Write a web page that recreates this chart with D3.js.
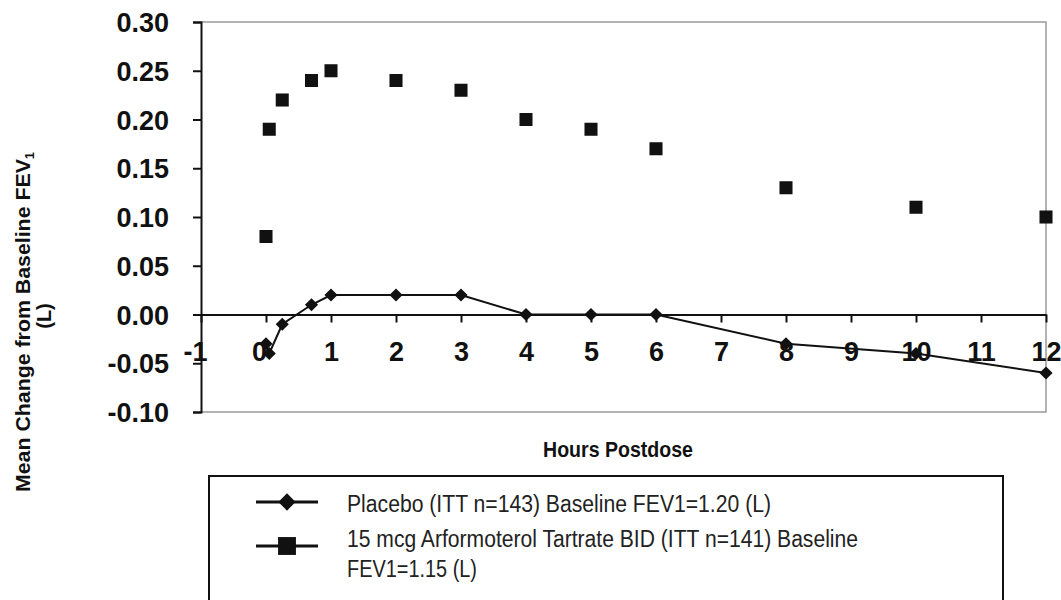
<!DOCTYPE html>
<html>
<head>
<meta charset="utf-8">
<script src="https://cdn.jsdelivr.net/npm/d3@7.9.0/dist/d3.min.js"></script>
<style>
  body { margin: 0; background: #fff; }
  svg { display: block; font-family: "Liberation Sans", Arial, sans-serif; }
</style>
</head>
<body>
<svg id="vis"></svg>
<script>
const width = 1061;
const height = 600;

// --- data ---
const hours = [0, 0.05, 0.25, 0.7, 1, 2, 3, 4, 5, 6, 8, 10, 12];
const placebo = [-0.03, -0.04, -0.01, 0.01, 0.02, 0.02, 0.02, 0.00, 0.00, 0.00, -0.03, -0.04, -0.06];
const arformoterol = [0.08, 0.19, 0.22, 0.24, 0.25, 0.24, 0.23, 0.20, 0.19, 0.17, 0.13, 0.11, 0.10];
const xTicks = d3.range(-1, 13);
const yTicks = [-0.10, -0.05, 0.00, 0.05, 0.10, 0.15, 0.20, 0.25, 0.30];
const legendLabels = [
    ["Placebo (ITT n=143) Baseline FEV1=1.20 (L)"],
    ["15 mcg Arformoterol Tartrate BID (ITT n=141) Baseline", "FEV1=1.15 (L)"]
];

const svg = d3.select("#vis")
    .attr("width", width)
    .attr("height", height);

const x = d3.scaleLinear().domain([-1, 12]).range([201, 1046]);
const y = d3.scaleLinear().domain([-0.10, 0.30]).range([412, 22]);

const signed = d => d < 0 ? "-" + d3.format(".2f")(-d) : d3.format(".2f")(d);

// frame (gray top, right, bottom)
svg.append("path")
    .attr("d", `M${x(-1)},${y(0.30)}H${x(12)}V${y(-0.10)}H${x(-1)}`)
    .attr("fill", "none")
    .attr("stroke", "#9a9a9a")
    .attr("stroke-width", 1.5);

// y axis
const yAxis = svg.append("g")
    .attr("transform", `translate(${x(-1)},0)`)
    .call(d3.axisLeft(y).tickValues(yTicks).tickFormat(signed).tickSize(8).tickPadding(24));
yAxis.select(".domain").attr("stroke", "#111").attr("stroke-width", 2);
yAxis.selectAll(".tick line").attr("stroke", "#111").attr("stroke-width", 2);
yAxis.selectAll(".tick text")
    .attr("fill", "#111")
    .style("font-size", "27px")
    .style("font-weight", "bold")
    .attr("dy", "0.36em");

// x axis at y = 0
const xAxis = svg.append("g")
    .attr("transform", `translate(0,${y(0)})`)
    .call(d3.axisBottom(x).tickValues(xTicks).tickFormat(d => d < 0 ? "-" + (-d) : d).tickSize(8).tickPadding(19).tickSizeOuter(0));
xAxis.select(".domain").attr("stroke", "#111").attr("stroke-width", 2);
xAxis.selectAll(".tick line").attr("stroke", "#111").attr("stroke-width", 2);
xAxis.selectAll(".tick text")
    .attr("fill", "#111")
    .style("font-size", "27px")
    .style("font-weight", "bold");
xAxis.selectAll(".tick text").filter(d => d === -1).attr("dx", -6);
xAxis.selectAll(".tick text").filter(d => d === 0).attr("dx", -7);

// placebo line + diamonds
const placeboData = hours.map((h, i) => ({ h, v: placebo[i] }));
const armData = hours.map((h, i) => ({ h, v: arformoterol[i] }));

svg.append("path")
    .datum(placeboData)
    .attr("fill", "none")
    .attr("stroke", "#111")
    .attr("stroke-width", 2)
    .attr("d", d3.line().x(d => x(d.h)).y(d => y(d.v)));

const diamond = d3.symbol().type(d3.symbolDiamond2).size(110);
const square = d3.symbol().type(d3.symbolSquare).size(170);

svg.selectAll(".placebo")
    .data(placeboData)
    .join("path")
    .attr("class", "placebo")
    .attr("transform", d => `translate(${x(d.h)},${y(d.v)})`)
    .attr("d", diamond)
    .attr("fill", "#111");

svg.selectAll(".arm")
    .data(armData)
    .join("path")
    .attr("class", "arm")
    .attr("transform", d => `translate(${x(d.h)},${y(d.v)})`)
    .attr("d", square)
    .attr("fill", "#111");

// axis titles
svg.append("text")
    .attr("x", 618)
    .attr("y", 457)
    .attr("text-anchor", "middle")
    .attr("fill", "#111")
    .style("font-size", "22px")
    .style("font-weight", "bold")
    .attr("textLength", 150)
    .attr("lengthAdjust", "spacingAndGlyphs")
    .text("Hours Postdose");

const yTitle = svg.append("text")
    .attr("transform", "translate(30,322) rotate(-90)")
    .attr("text-anchor", "middle")
    .attr("fill", "#111")
    .style("font-size", "20px")
    .style("font-weight", "bold")
    .attr("textLength", 340)
    .attr("lengthAdjust", "spacingAndGlyphs");
yTitle.append("tspan").text("Mean Change from Baseline FEV");
yTitle.append("tspan").attr("dy", 4).style("font-size", "12px").text("1");

svg.append("text")
    .attr("transform", "translate(51,316) rotate(-90)")
    .attr("text-anchor", "middle")
    .attr("fill", "#111")
    .style("font-size", "20px")
    .style("font-weight", "bold")
    .text("(L)");

// legend
const legend = svg.append("g");
legend.append("rect")
    .attr("x", 209)
    .attr("y", 476)
    .attr("width", 794)
    .attr("height", 200)
    .attr("fill", "none")
    .attr("stroke", "#111")
    .attr("stroke-width", 2);

const legendRows = [
    { y: 502, base: [512], shape: d3.symbol().type(d3.symbolDiamond2).size(190) },
    { y: 546, base: [547, 577], shape: d3.symbol().type(d3.symbolSquare).size(320) }
];
const legendWidths = [[424], [511, 130]];

legendRows.forEach((row, i) => {
    legend.append("line")
        .attr("x1", 256).attr("x2", 318)
        .attr("y1", row.y).attr("y2", row.y)
        .attr("stroke", "#111")
        .attr("stroke-width", 3);
    legend.append("path")
        .attr("transform", `translate(287,${row.y})`)
        .attr("d", row.shape)
        .attr("fill", "#111");
    legendLabels[i].forEach((t, j) => {
        legend.append("text")
            .attr("x", 347)
            .attr("y", row.base[j])
            .attr("fill", "#222")
            .style("font-size", "23px")
            .attr("textLength", legendWidths[i][j])
            .attr("lengthAdjust", "spacingAndGlyphs")
            .text(t);
    });
});
</script>
</body>
</html>
